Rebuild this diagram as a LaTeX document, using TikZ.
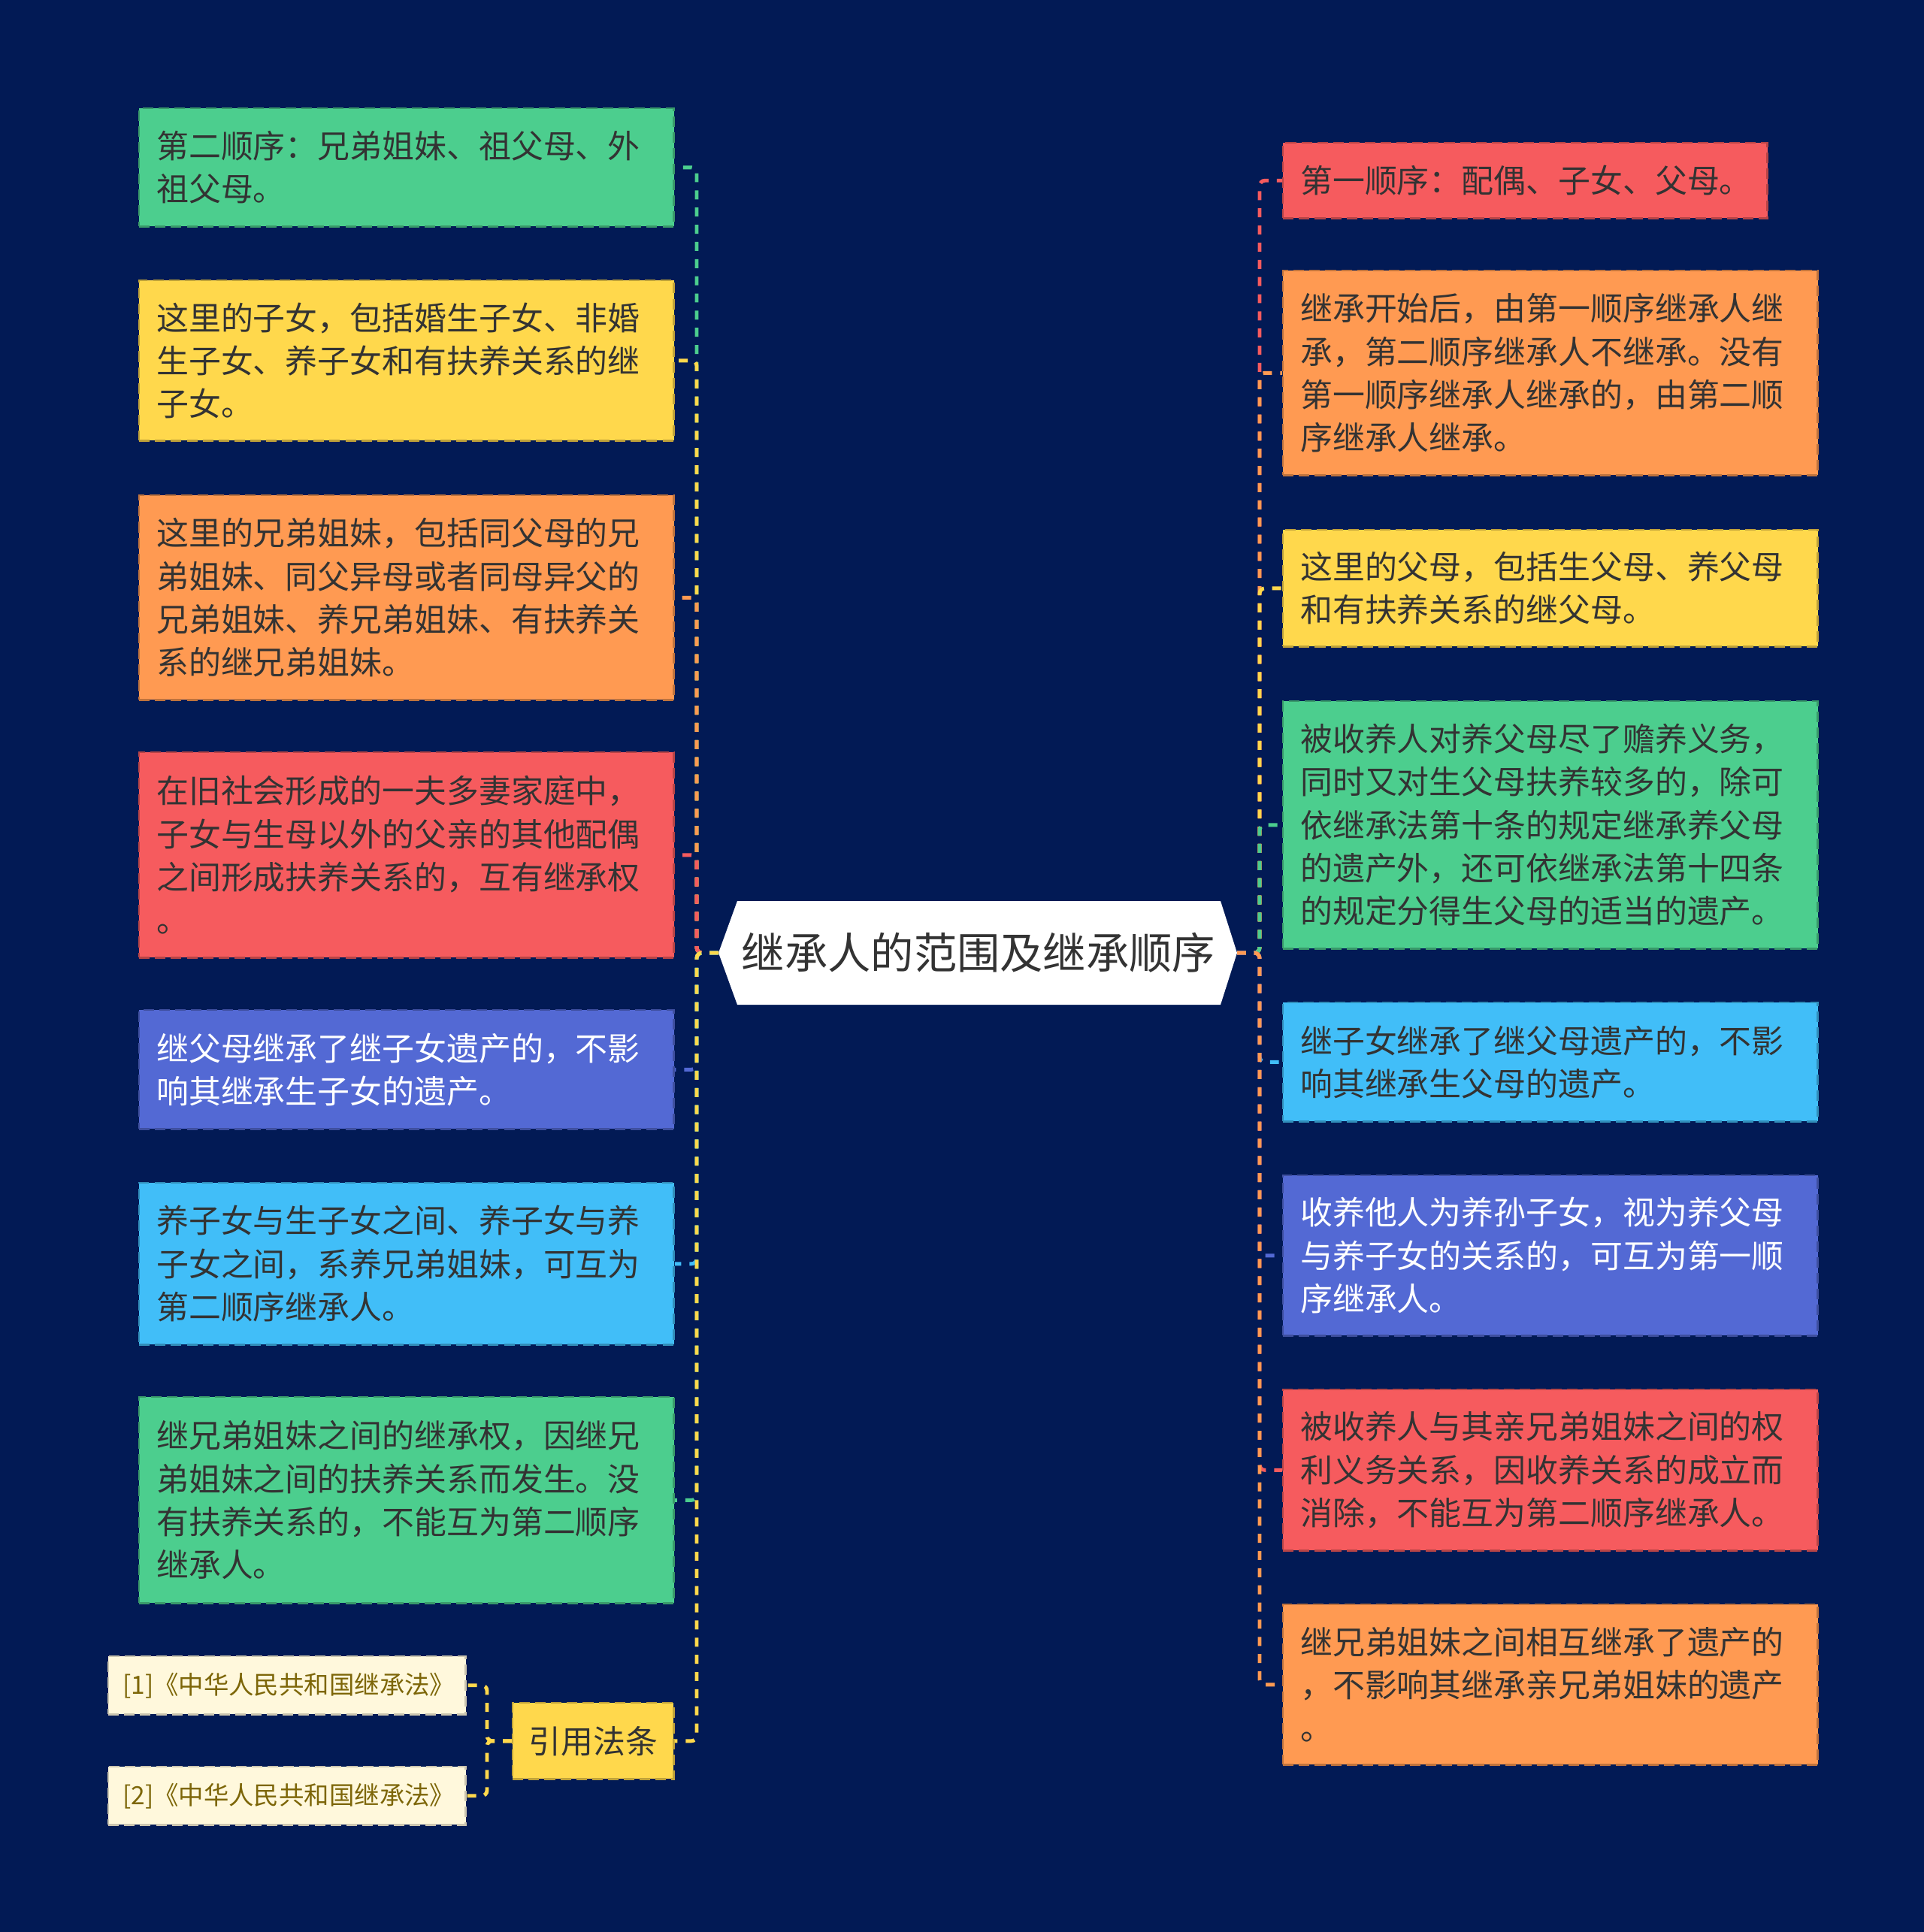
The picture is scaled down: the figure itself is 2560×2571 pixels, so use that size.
\documentclass[tikz,border=0pt]{standalone}
\usepackage{fontspec}
\newfontfamily\cjk{Noto Sans CJK SC}
\definecolor{bg}{HTML}{021A55}
\definecolor{cgreen}{HTML}{4CCE8E}
\definecolor{cyellow}{HTML}{FFD84C}
\definecolor{corange}{HTML}{FF9A52}
\definecolor{cred}{HTML}{F65B5E}
\definecolor{cpurple}{HTML}{5369D4}
\definecolor{cblue}{HTML}{41BEF8}
\definecolor{ccream}{HTML}{FFF8DC}
\definecolor{txt}{HTML}{333333}
\definecolor{olive}{HTML}{7D6608}
\tikzset{
  x=0.01cm, y=-0.01cm,
  card/.style={rectangle, draw=#1!75!black, fill=#1, dash pattern=on 4pt off 2pt,
    line width=0.7pt, inner xsep=0.23cm, inner ysep=0pt, align=left,
    anchor=north west, text=txt, text width=6.65cm,
    font=\cjk\fontsize{12.2pt}{16.3pt}\selectfont},
  cite/.style={rectangle, draw=ccream!80!black, fill=ccream, dash pattern=on 4pt off 2pt,
    line width=0.7pt, inner xsep=0.19cm, inner ysep=0pt, align=left,
    anchor=north west, text=olive, text width=4.37cm, minimum height=0.77cm,
    font=\cjk\fontsize{9.5pt}{12pt}\selectfont},
  link/.style={draw=#1, line width=1.4pt, dash pattern=on 3.4pt off 3.1pt, rounded corners=2pt},
  rootbox/.style={rectangle, inner sep=0pt, minimum width=6.43cm,
    minimum height=1.38cm, text=txt, font=\cjk\fontsize{16.3pt}{18pt}\selectfont},
}
\begin{document}
\begin{tikzpicture}
\useasboundingbox (0,0) rectangle (2560,2571);
\fill[bg] (0,0) rectangle (2560,2571);

% root (hexagon background, then the named node)
\fill[white] (956,1268) -- (981,1199) -- (1624,1199) -- (1646,1268) -- (1624,1337) -- (981,1337) -- cycle;
\node[rootbox] (root) at (1302,1268) {继承人的范围及继承顺序};
\coordinate (rootL) at (956,1268);
\coordinate (rootR) at (1646,1268);

% left column
\node[card=cgreen, minimum height=1.57cm] (L1) at (184,143) {第二顺序：兄弟姐妹、祖父母、外\\祖父母。};
\node[card=cyellow, minimum height=2.13cm] (L2) at (184,372) {这里的子女，包括婚生子女、非婚\\生子女、养子女和有扶养关系的继\\子女。};
\node[card=corange, minimum height=2.72cm] (L3) at (184,658) {这里的兄弟姐妹，包括同父母的兄\\弟姐妹、同父异母或者同母异父的\\兄弟姐妹、养兄弟姐妹、有扶养关\\系的继兄弟姐妹。};
\node[card=cred, minimum height=2.73cm] (L4) at (184,1000) {在旧社会形成的一夫多妻家庭中，\\子女与生母以外的父亲的其他配偶\\之间形成扶养关系的，互有继承权\\。};
\node[card=cpurple, text=white, minimum height=1.58cm] (L5) at (184,1343) {继父母继承了继子女遗产的，不影\\响其继承生子女的遗产。};
\node[card=cblue, minimum height=2.15cm] (L6) at (184,1573) {养子女与生子女之间、养子女与养\\子女之间，系养兄弟姐妹，可互为\\第二顺序继承人。};
\node[card=cgreen, minimum height=2.74cm] (L7) at (184,1858) {继兄弟姐妹之间的继承权，因继兄\\弟姐妹之间的扶养关系而发生。没\\有扶养关系的，不能互为第二顺序\\继承人。};
\node[card=cyellow, text width=, align=center, inner xsep=0pt, minimum width=2.14cm, minimum height=1.01cm] (ref) at (681,2265) {引用法条};
\node[cite] (c1) at (143,2203) {[1]《中华人民共和国继承法》};
\node[cite] (c2) at (143,2350) {[2]《中华人民共和国继承法》};

% right column
\node[card=cred, text width=5.98cm, minimum height=1.00cm] (R1) at (1706,189) {第一顺序：配偶、子女、父母。};
\node[card=corange, minimum height=2.72cm] (R2) at (1706,359) {继承开始后，由第一顺序继承人继\\承，第二顺序继承人不继承。没有\\第一顺序继承人继承的，由第二顺\\序继承人继承。};
\node[card=cyellow, minimum height=1.55cm] (R3) at (1706,704) {这里的父母，包括生父母、养父母\\和有扶养关系的继父母。};
\node[card=cgreen, minimum height=3.29cm] (R4) at (1706,932) {被收养人对养父母尽了赡养义务，\\同时又对生父母扶养较多的，除可\\依继承法第十条的规定继承养父母\\的遗产外，还可依继承法第十四条\\的规定分得生父母的适当的遗产。};
\node[card=cblue, minimum height=1.58cm] (R5) at (1706,1333) {继子女继承了继父母遗产的，不影\\响其继承生父母的遗产。};
\node[card=cpurple, text=white, minimum height=2.13cm] (R6) at (1706,1563) {收养他人为养孙子女，视为养父母\\与养子女的关系的，可互为第一顺\\序继承人。};
\node[card=cred, minimum height=2.14cm] (R7) at (1706,1848) {被收养人与其亲兄弟姐妹之间的权\\利义务关系，因收养关系的成立而\\消除，不能互为第二顺序继承人。};
\node[card=corange, minimum height=2.13cm] (R8) at (1706,2134) {继兄弟姐妹之间相互继承了遗产的\\，不影响其继承亲兄弟姐妹的遗产\\。};

% connectors left
\draw[link=cgreen]  (rootL) -- ++(-29,0) |- (L1.east);
\draw[link=cyellow] (rootL) -- ++(-29,0) |- (L2.east);
\draw[link=corange] (rootL) -- ++(-29,0) |- (L3.east);
\draw[link=cred]    (rootL) -- ++(-29,0) |- (L4.east);
\draw[link=cpurple] (rootL) -- ++(-29,0) |- (L5.east);
\draw[link=cblue]   (rootL) -- ++(-29,0) |- (L6.east);
\draw[link=cgreen]  (rootL) -- ++(-29,0) |- (L7.east);
\draw[link=cyellow] (rootL) -- ++(-29,0) |- (ref.east);
% citations
\draw[link=cyellow] (ref.west) -- ++(-33,0) |- (c1.east);
\draw[link=cyellow] (ref.west) -- ++(-33,0) |- (c2.east);

% connectors right
\draw[link=cred]    (rootR) -- ++(30,0) |- (R1.west);
\draw[link=corange] (rootR) -- ++(30,0) |- (R2.west);
\draw[link=cyellow] (rootR) -- ++(30,0) |- (R3.west);
\draw[link=cgreen]  (rootR) -- ++(30,0) |- (R4.west);
\draw[link=cblue]   (rootR) -- ++(30,0) |- (R5.west);
\draw[link=cpurple] (rootR) -- ++(30,0) |- (R6.west);
\draw[link=cred]    (rootR) -- ++(30,0) |- (R7.west);
\draw[link=corange] (rootR) -- ++(30,0) |- (R8.west);
\end{tikzpicture}
\end{document}
